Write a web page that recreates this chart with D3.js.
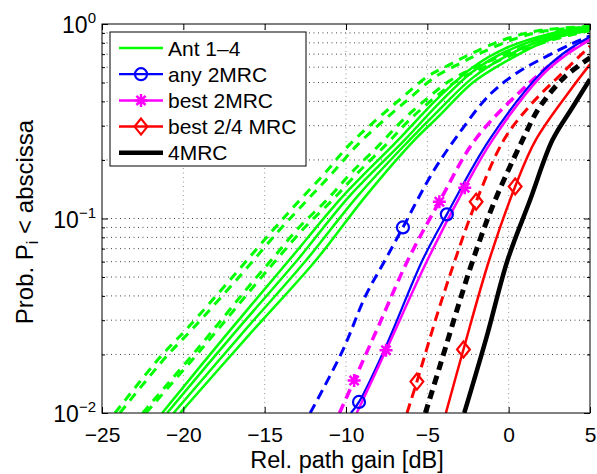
<!DOCTYPE html>
<html>
<head>
<meta charset="utf-8">
<script src="https://cdn.jsdelivr.net/npm/d3@7"></script>
<style>
body { margin: 0; background: #fff; }
text { font-family: "Liberation Sans", Arial, Helvetica, sans-serif; fill: #000; }
</style>
</head>
<body>
<div id="chart"></div>
<script>
// [gain dB, probability]
var antSolid = [
  [[-21.3,0.01],[-17.4,0.025],[-13.5,0.061],[-10.2,0.13],[-6.8,0.253],[-4.3,0.42],[-2.2,0.6],[-0.2,0.75],[2.5,0.89],[5,0.97]],
  [[-21.0,0.01],[-17.0,0.025],[-13.0,0.061],[-9.8,0.13],[-6.4,0.253],[-4.3,0.39],[-2.2,0.57],[-0.2,0.72],[2.5,0.87],[5,0.955]],
  [[-20.6,0.01],[-16.5,0.025],[-12.45,0.061],[-9.3,0.13],[-6.1,0.253],[-4.3,0.36],[-2.2,0.53],[-0.2,0.68],[2.5,0.85],[5,0.94]],
  [[-20.2,0.01],[-16.0,0.025],[-11.85,0.061],[-8.8,0.13],[-5.8,0.253],[-4.3,0.335],[-2.2,0.5],[-0.2,0.64],[2.5,0.83],[5,0.925]]
];
var antDashed = [
  [[-24.2,0.01],[-21.4,0.0195],[-19.8,0.027],[-16.8,0.052],[-14.5,0.087],[-12.85,0.124],[-11.3,0.171],[-9.8,0.239],[-8.15,0.321],[-6.6,0.415],[-5.0,0.536],[-3.6,0.62],[-2.2,0.71],[-0.3,0.83],[1.7,0.92],[5,0.975]],
  [[-23.9,0.01],[-21.05,0.0195],[-19.45,0.027],[-16.4,0.052],[-14.1,0.087],[-12.4,0.124],[-10.85,0.171],[-9.3,0.239],[-7.65,0.321],[-6.1,0.415],[-4.5,0.536],[-3.1,0.62],[-1.7,0.71],[0.2,0.83],[2.2,0.92],[5,0.965]],
  [[-22.5,0.01],[-19.2,0.021],[-15.9,0.0455],[-14.5,0.0624],[-12.85,0.0907],[-11.2,0.124],[-9.7,0.171],[-7.95,0.239],[-6.6,0.315],[-5.0,0.415],[-3.55,0.515],[-2.0,0.6],[0,0.71],[2,0.82],[5,0.935]],
  [[-22.3,0.01],[-18.95,0.021],[-15.6,0.0455],[-14.2,0.0624],[-12.5,0.0907],[-10.85,0.124],[-9.3,0.171],[-7.55,0.239],[-6.2,0.315],[-4.6,0.415],[-3.1,0.515],[-1.5,0.6],[0.5,0.71],[2.5,0.82],[5,0.925]]
];
var any2Dashed = [[-12.2,0.01],[-10.2,0.021],[-8.8,0.04],[-7.6,0.061],[-6.5,0.09],[-4.7,0.171],[-3.2,0.263],[-1.2,0.43],[0.5,0.56],[2.3,0.68],[4.0,0.8],[5,0.87]];
var any2Solid = [[-9.7,0.01],[-9.2,0.0114],[-7.6,0.0215],[-5.3,0.061],[-3.8,0.105],[-1.2,0.253],[1.9,0.55],[3.5,0.72],[5,0.86]];
var best2Dashed = [[-10.4,0.01],[-9.5,0.0147],[-8.0,0.028],[-6.2,0.061],[-4.26,0.122],[-2.0,0.258],[1.3,0.5],[3,0.66],[5,0.85]];
var best2Solid = [[-9.34,0.01],[-7.54,0.021],[-5.0,0.061],[-2.7,0.144],[-1.0,0.253],[2.0,0.54],[3.5,0.69],[5,0.83]];
var best24Dashed = [[-6.25,0.01],[-5.64,0.0145],[-4.35,0.033],[-3.3,0.061],[-2.0,0.122],[-0.3,0.253],[1.3,0.38],[3.3,0.56],[5,0.77]];
var best24Solid = [[-3.86,0.01],[-2.78,0.0212],[-1.2,0.061],[0.4,0.146],[1.66,0.253],[3.9,0.47],[5,0.62]];
var mrc4Dashed = [[-5.12,0.01],[-4.24,0.0173],[-3.05,0.0367],[-2.2,0.061],[-1.0,0.115],[0.85,0.253],[1.87,0.37],[3.4,0.53],[5,0.67]];
var mrc4Solid = [[-2.73,0.01],[-1.35,0.0247],[-0.07,0.061],[1.31,0.124],[2.69,0.253],[3.9,0.37],[5,0.52]];

var any2Marks = [[-6.5,0.09],[-9.2,0.0114],[-3.8,0.105]];
var best2Marks = [[-9.5,0.0147],[-4.26,0.122],[-7.54,0.021],[-2.7,0.144]];
var best24Marks = [[-5.64,0.0145],[-2.0,0.122],[-2.78,0.0212],[0.4,0.146]];

var legendLabels = ['Ant 1\u20134', 'any 2MRC', 'best 2MRC', 'best 2/4 MRC', '4MRC'];
var xTicks = [-25, -20, -15, -10, -5, 0, 5];
var yDecades = [-2, -1, 0];

var width = 597, height = 474,
    pL = 102, pR = 590, pT = 24, pB = 413;

var svg = d3.select('#chart').append('svg').attr('width', width).attr('height', height);

var x = d3.scaleLinear().domain([-25, 5]).range([pL, pR]);
var y = d3.scaleLog().domain([0.01, 1]).range([pB, pT]);

// minor values 2..9 of each decade
var yMinor = [];
yDecades.slice(0, 2).forEach(function(k) {
  for (var m = 2; m <= 9; m++) yMinor.push(m * Math.pow(10, k));
});
var yMajor = yDecades.map(function(k) { return Math.pow(10, k); });

// grid
var grid = svg.append('g');
grid.selectAll('.hg').data(yMinor.concat(yMajor.slice(1, 2))).enter().append('line')
  .attr('x1', pL).attr('x2', pR)
  .attr('y1', function(d) { return y(d); }).attr('y2', function(d) { return y(d); })
  .attr('stroke', '#444').attr('stroke-width', 1).attr('stroke-dasharray', '1,3.5');
grid.selectAll('.vg').data(xTicks.slice(1, -1)).enter().append('line')
  .attr('y1', pT).attr('y2', pB)
  .attr('x1', function(d) { return x(d); }).attr('x2', function(d) { return x(d); })
  .attr('stroke', '#999').attr('stroke-width', 1).attr('stroke-dasharray', '1,3.5');

svg.append('clipPath').attr('id', 'clip').append('rect')
  .attr('x', pL).attr('y', pT).attr('width', pR - pL).attr('height', pB - pT);

var line = d3.line()
  .x(function(d) { return x(d[0]); })
  .y(function(d) { return y(d[1]); })
  .curve(d3.curveCatmullRom.alpha(0.5));

var plot = svg.append('g').attr('clip-path', 'url(#clip)');

function draw(data, color, w, dash) {
  plot.append('path')
    .attr('d', line(data))
    .attr('fill', 'none')
    .attr('stroke', color)
    .attr('stroke-width', w)
    .attr('stroke-dasharray', dash || null);
}

antDashed.forEach(function(s) { draw(s, '#00ff00', 3, '9,7'); });
antSolid.forEach(function(s) { draw(s, '#00ff00', 2.5); });
draw(any2Dashed, '#0000ff', 3, '10,6');
draw(best2Dashed, '#ff00ff', 3.5, '10,6');
draw(best24Dashed, '#ff0000', 3, '10,6');
draw(mrc4Dashed, '#000000', 5, '9,6');
draw(any2Solid, '#0000ff', 2.2);
draw(best2Solid, '#ff00ff', 2.5);
draw(best24Solid, '#ff0000', 2.5);
draw(mrc4Solid, '#000000', 4.5);

// markers
function circle(g, cx, cy, color) {
  g.append('circle').attr('cx', cx).attr('cy', cy).attr('r', 6)
    .attr('fill', 'none').attr('stroke', color).attr('stroke-width', 2.2);
}
function star(g, cx, cy, color) {
  var r = 6.5, p = '';
  [0, 45, 90, 135].forEach(function(a) {
    var t = a * Math.PI / 180, dx = r * Math.cos(t), dy = r * Math.sin(t);
    p += 'M' + (cx - dx) + ',' + (cy - dy) + 'L' + (cx + dx) + ',' + (cy + dy);
  });
  g.append('path').attr('d', p).attr('stroke', color).attr('stroke-width', 2.5).attr('fill', 'none');
}
function diamond(g, cx, cy, color) {
  var r = 8;
  g.append('path')
    .attr('d', 'M' + cx + ',' + (cy - r) + 'L' + (cx + r * 0.8) + ',' + cy + 'L' + cx + ',' + (cy + r) + 'L' + (cx - r * 0.8) + ',' + cy + 'Z')
    .attr('fill', 'none').attr('stroke', color).attr('stroke-width', 2.2);
}

var marks = svg.append('g');
any2Marks.forEach(function(d) { circle(marks, x(d[0]), y(d[1]), '#0000ff'); });
best2Marks.forEach(function(d) { star(marks, x(d[0]), y(d[1]), '#ff00ff'); });
best24Marks.forEach(function(d) { diamond(marks, x(d[0]), y(d[1]), '#ff0000'); });

// axes, ticks pointing inward
svg.append('g').attr('transform', 'translate(0,' + pB + ')')
  .call(d3.axisBottom(x).tickValues(xTicks).tickSize(-6).tickPadding(14)
    .tickFormat(d3.format('d')))
  .call(function(g) {
    g.select('.domain').remove();
    g.selectAll('text').attr('font-size', 21).attr('font-family', null);
  });
svg.append('g').attr('transform', 'translate(0,' + pT + ')')
  .call(d3.axisTop(x).tickValues(xTicks).tickSize(-6).tickFormat(''))
  .call(function(g) { g.select('.domain').remove(); });

[[d3.axisLeft, pL], [d3.axisRight, pR]].forEach(function(a) {
  svg.append('g').attr('transform', 'translate(' + a[1] + ',0)')
    .call(a[0](y).tickValues(yMajor).tickSize(-6).tickFormat(''))
    .call(function(g) { g.select('.domain').remove(); });
  svg.append('g').attr('transform', 'translate(' + a[1] + ',0)')
    .call(a[0](y).tickValues(yMinor).tickSize(-3).tickFormat(''))
    .call(function(g) { g.select('.domain').remove(); });
});

svg.append('rect').attr('x', pL).attr('y', pT)
  .attr('width', pR - pL).attr('height', pB - pT)
  .attr('fill', 'none').attr('stroke', '#000').attr('stroke-width', 1);

// y tick labels 10^k
yDecades.forEach(function(k) {
  var t = svg.append('text').attr('x', 96).attr('y', y(Math.pow(10, k)) + 9)
    .attr('text-anchor', 'end').attr('font-size', 23);
  t.append('tspan').text('10');
  t.append('tspan').attr('dy', -10).attr('font-size', 15).text(k === 0 ? '0' : '\u2212' + (-k));
});

// axis labels
svg.append('text').attr('x', 347).attr('y', 468).attr('text-anchor', 'middle')
  .attr('font-size', 23.5).text('Rel. path gain [dB]');

var yl = svg.append('text').attr('transform', 'translate(33,222) rotate(-90)')
  .attr('text-anchor', 'middle').attr('font-size', 24);
yl.append('tspan').text('Prob. P');
yl.append('tspan').attr('dy', 5).attr('font-size', 16).text('i');
yl.append('tspan').attr('dy', -5).text(' < abscissa');

// legend
var legendStyle = [
  { color: '#00ff00', w: 2.5, mark: null },
  { color: '#0000ff', w: 2.2, mark: circle },
  { color: '#ff00ff', w: 2.5, mark: star },
  { color: '#ff0000', w: 2.5, mark: diamond },
  { color: '#000000', w: 4.5, mark: null }
];
var lg = svg.append('g');
lg.append('rect').attr('x', 110).attr('y', 32).attr('width', 196).attr('height', 134)
  .attr('fill', '#fff').attr('stroke', '#000').attr('stroke-width', 1);
legendLabels.forEach(function(label, i) {
  var ly = 48 + i * 26.2, s = legendStyle[i];
  lg.append('line').attr('x1', 119).attr('x2', 163).attr('y1', ly).attr('y2', ly)
    .attr('stroke', s.color).attr('stroke-width', s.w);
  if (s.mark) s.mark(lg, 141, ly, s.color);
  lg.append('text').attr('x', 168).attr('y', ly + 7.5).attr('font-size', 21).text(label);
});
</script>
</body>
</html>
